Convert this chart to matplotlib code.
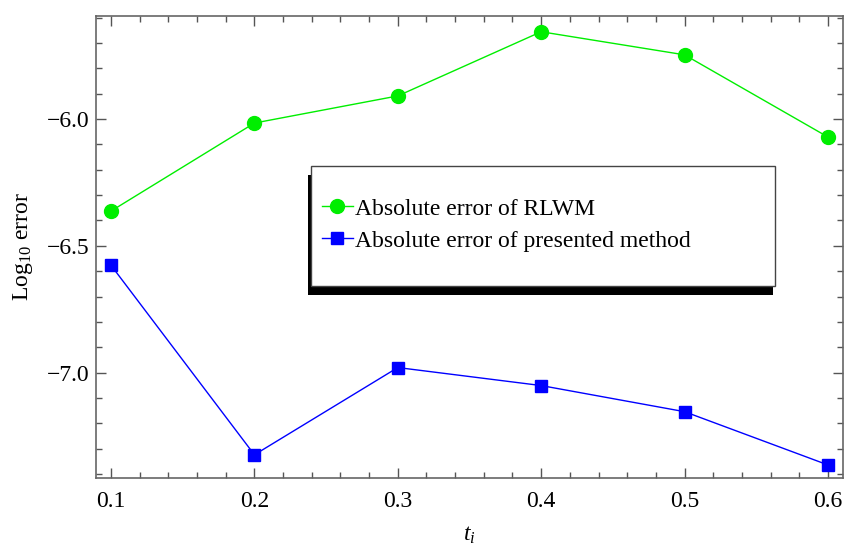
import matplotlib
matplotlib.use("Agg")
import matplotlib.pyplot as plt
from matplotlib.ticker import MultipleLocator, FuncFormatter
from matplotlib.patches import Rectangle
from matplotlib.lines import Line2D

plt.rcParams['font.family'] = ['Liberation Serif', 'DejaVu Serif']
plt.rcParams['mathtext.fontset'] = 'custom'
plt.rcParams['mathtext.rm'] = 'Liberation Serif'
plt.rcParams['mathtext.it'] = 'Liberation Serif:italic'

# data
t = [0.1, 0.2, 0.3, 0.4, 0.5, 0.6]
err_rlwm = [-6.363, -6.016, -5.909, -5.656, -5.747, -6.071]
err_presented = [-6.577, -7.324, -6.980, -7.051, -7.154, -7.364]
labels = ["Absolute error of RLWM", "Absolute error of presented method"]

fig = plt.figure(figsize=(8.45, 5.47), dpi=100)
ax = fig.add_axes([0.1136, 0.1261, 0.8840, 0.8446])

ax.plot(t, err_rlwm, color='#00ee00', lw=1, marker='o', ms=10, zorder=3)
ax.plot(t, err_presented, color='#0000ff', lw=1, marker='s', ms=8.5, zorder=3)

ax.set_xlim(0.0895, 0.6105)
ax.set_ylim(-7.4156, -5.594)
ax.xaxis.set_major_locator(MultipleLocator(0.1))
ax.xaxis.set_minor_locator(MultipleLocator(0.02))
ax.yaxis.set_major_locator(MultipleLocator(0.5))
ax.yaxis.set_minor_locator(MultipleLocator(0.1))
ax.xaxis.set_major_formatter(FuncFormatter(lambda v, p: f"{v:.1f}"))
ax.yaxis.set_major_formatter(FuncFormatter(lambda v, p: f"\u2212{abs(v):.1f}"))

for s in ax.spines.values():
    s.set_color('#666666')
    s.set_linewidth(1.2)
ax.tick_params(which='both', direction='in', top=True, right=True, color='#555555',
               labelsize=17, labelcolor='black')
ax.tick_params(which='major', length=7, width=1, pad=5)
ax.tick_params(axis='x', which='major', pad=9)
ax.tick_params(which='minor', length=4, width=1)
ax.tick_params(top=True, right=True, labeltop=False, labelright=False)

ax.set_ylabel("Log$_{10}$ error", fontsize=17)
ax.yaxis.set_label_coords(-0.082, 0.5)
ax.set_xlabel("$t_i$", fontsize=17, va='center')
ax.xaxis.set_label_coords(0.5, -0.125)

# legend box with shadow (Mathematica style), in pixel-ish figure coords
W, H = 845.0, 547.0
shadow = Rectangle((308 / W, 1 - 295 / H), (773 - 308) / W, (295 - 175) / H,
                   transform=fig.transFigure, facecolor='black', edgecolor='none', zorder=5)
box = Rectangle((311 / W, 1 - 286 / H), (775 - 311) / W, (286 - 166) / H,
                transform=fig.transFigure, facecolor='white', edgecolor='#444444',
                lw=1, zorder=6)
fig.add_artist(shadow)
fig.add_artist(box)

handles = [
    Line2D([], [], color='#00ee00', lw=1, marker='o', ms=10),
    Line2D([], [], color='#0000ff', lw=1, marker='s', ms=8.5),
]
leg = fig.legend(handles, labels, loc='upper left', bbox_to_anchor=(322 / W, 1 - 198 / H),
                 frameon=False, fontsize=17, handlelength=1.3, handletextpad=0.1,
                 labelspacing=0.45, borderaxespad=0, borderpad=0)
leg.set_zorder(7)

fig.savefig("out.png", dpi=100)
